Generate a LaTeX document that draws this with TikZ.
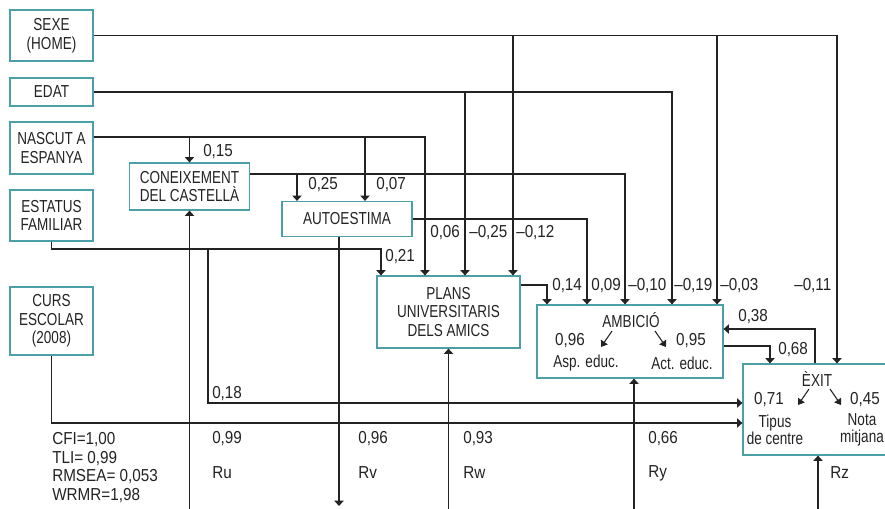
\documentclass[tikz,border=0pt]{standalone}
\usepackage{fontspec}
\setmainfont{Liberation Sans}[FakeStretch=0.78]
\newfontfamily\numfont{Liberation Sans}[FakeStretch=0.88]
\usetikzlibrary{arrows.meta}
\definecolor{boxteal}{RGB}{74,160,166}
\definecolor{ink}{RGB}{35,35,35}

\begin{document}
\begin{tikzpicture}[x=0.75pt, y=-0.75pt,
  every node/.style={font=\fontsize{13}{14}\selectfont, text=ink},
  box/.style={draw=boxteal, line width=0.9pt, inner sep=0pt, align=center},
  link/.style={draw=ink, line width=0.8pt},
  arr/.style={link, -{Triangle[width=7pt,length=4pt]}},
  coef/.style={anchor=west, inner sep=0pt, font=\fontsize{13}{14}\numfont},
  tiny/.style={link, -{Triangle[width=6pt,length=4.5pt]}}]

  \useasboundingbox (0,0) rectangle (885,508);
  \clip (0,0) rectangle (885,508);

  % exogenous variables
  \node[box, minimum width=62.25pt, minimum height=38.25pt] (sexe) at (51.5,35.5) {SEXE\\(HOME)};
  \node[box, minimum width=62.25pt, minimum height=21pt] (edat) at (51.5,92) {EDAT};
  \node[box, minimum width=62.25pt, minimum height=39pt] (nascut) at (51.5,148) {NASCUT A\\ESPANYA};
  \node[box, minimum width=62.25pt, minimum height=38.25pt] (estatus) at (51.5,215.5) {ESTATUS\\FAMILIAR};
  \node[box, minimum width=62.25pt, minimum height=51pt] (curs) at (51.5,321) {CURS\\ESCOLAR\\(2008)};

  % mediators and outcome
  \node[box, minimum width=90pt, minimum height=35.25pt] (coneix) at (189.5,186.5) {CONEIXEMENT\\DEL CASTELLÀ};
  \node[box, minimum width=97.5pt, minimum height=26.25pt] (autoest) at (347,219) {AUTOESTIMA};
  \node[box, minimum width=107.25pt, minimum height=54pt] (plans) at (448.5,312) {PLANS\\UNIVERSITARIS\\DELS AMICS};
  \node[box, minimum width=139.5pt, minimum height=54.75pt] (ambicio) at (630,341.5) {};
  \node[box, minimum width=108pt, minimum height=68.25pt] (exit) at (815,409.5) {};

  \node (amb-t) at (631,320) {AMBICIÓ};
  \node[coef, anchor=center] (amb-v1) at (570,341) {0,96};
  \node[coef, anchor=center] (amb-v2) at (691,341) {0,95};
  \node (amb-l1) at (586,363) {Asp. educ.};
  \node (amb-l2) at (682,363) {Act. educ.};

  \node (ex-t) at (817,379) {ÈXIT};
  \node[coef, anchor=center] (ex-v1) at (769,400) {0,71};
  \node[coef, anchor=center] (ex-v2) at (865,400) {0,45};
  \node[align=center, font=\fontsize{13}{12.75}\selectfont] (ex-l1) at (775,430) {Tipus\\de centre};
  \node[align=center, font=\fontsize{13}{12.75}\selectfont] (ex-l2) at (862,430) {Nota\\mitjana};

  \foreach \n/\xa/\ya/\xb/\yb in {a1/612/331/601/347, a2/655/331/666/347,
                                   x1/809/389/798/405, x2/830/389/841/405} {
    \coordinate (\n-s) at (\xa,\ya);
    \coordinate (\n-e) at (\xb,\yb);
    \draw[tiny] (\n-s) -- (\n-e);
  }

  % paths
  \draw[arr] (sexe.east) -| (plans.north -| 513,0);
  \draw[arr] (sexe.east) -| (ambicio.north -| 717,0);
  \draw[arr] (sexe.east) -| (exit.north -| 837,0);
  \draw[arr] (edat.east) -| (plans.north -| 465,0);
  \draw[arr] (edat.east) -| (ambicio.north -| 672,0);
  \draw[arr] (nascut.east |- 0,137) -| (coneix.north);
  \draw[arr] (nascut.east |- 0,137) -| (autoest.north -| 365,0);
  \draw[arr] (nascut.east |- 0,137) -| (plans.north -| 425,0);
  \draw[arr] (coneix.east |- 0,174) -| (autoest.north -| 297,0);
  \draw[arr] (coneix.east |- 0,174) -| (ambicio.north -| 625,0);
  \draw[arr] (autoest.east) -| (ambicio.north -| 587,0);
  \draw[arr] (estatus.south) |- (381,249) -- (plans.north -| 381,0);
  \draw[arr] (estatus.south) |- (208,249) |- (exit.west |- 0,403);
  \draw[arr] (curs.south) |- (exit.west |- 0,423);
  \draw[arr] (plans.east |- 0,285) -| (ambicio.north -| 547,0);
  \draw[arr] (exit.north -| 815,0) |- (ambicio.east |- 0,329);
  \draw[arr] (ambicio.east |- 0,346) -| (exit.north -| 770,0);

  \node[coef] (b-nc) at (203,152) {0,15};
  \node[coef] (b-ca) at (308,185) {0,25};
  \node[coef] (b-na) at (376,185) {0,07};
  \node[coef] (b-np) at (430,233) {0,06};
  \node[coef] (b-ep) at (469,233) {–0,25};
  \node[coef] (b-sp) at (516,233) {–0,12};
  \node[coef] (b-fp) at (385,257) {0,21};
  \node[coef] (b-pa) at (552,286) {0,14};
  \node[coef] (b-aa) at (591,286) {0,09};
  \node[coef] (b-ka) at (628,286) {–0,10};
  \node[coef] (b-ea) at (674,286) {–0,19};
  \node[coef] (b-sa) at (720,286) {–0,03};
  \node[coef] (b-sx) at (794,286) {–0,11};
  \node[coef] (b-xa) at (738,317) {0,38};
  \node[coef] (b-ax) at (778,350) {0,68};
  \node[coef] (b-fx) at (212,394) {0,18};

  % residuals
  \coordinate (ru) at (189.5,510);
  \coordinate (rv) at (339,506);
  \coordinate (rw) at (448.5,510);
  \coordinate (ry) at (634,510);
  \coordinate (rz) at (818,510);
  \draw[arr] (ru) -- (coneix.south);
  \draw[arr] (autoest.south -| rv) -- (rv);
  \draw[arr] (rw) -- (plans.south);
  \draw[arr] (ry) -- (ambicio.south -| ry);
  \draw[arr] (rz) -- (exit.south -| rz);

  \foreach \r/\x/\v in {Ru/212/{0,99}, Rv/358/{0,96}, Rw/463/{0,93}, Ry/648/{0,66}} {
    \node[coef] (v-\r) at (\x,439) {\v};
    \node[coef] (l-\r) at (\x,473) {\r};
  }
  \node[coef] (l-Rz) at (830,473) {Rz};

  \node[coef, anchor=north west, align=left] (fit) at (52,432)
    {CFI=1,00\\TLI= 0,99\\RMSEA= 0,053\\WRMR=1,98};
\end{tikzpicture}
\end{document}
